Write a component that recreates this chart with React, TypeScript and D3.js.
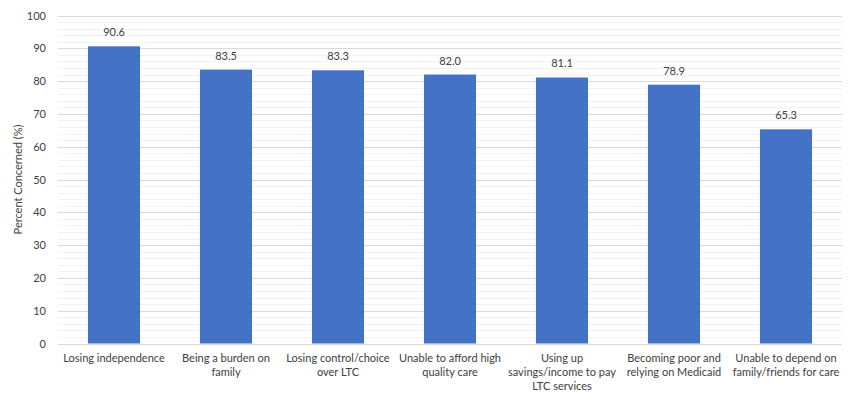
import React from "react";
import * as d3 from "d3";

const categories = [
  "Losing independence",
  "Being a burden on\nfamily",
  "Losing control/choice\nover LTC",
  "Unable to afford high\nquality care",
  "Using up\nsavings/income to pay\nLTC services",
  "Becoming poor and\nrelying on Medicaid",
  "Unable to depend on\nfamily/friends for care",
];
const values = [90.6, 83.5, 83.3, 82.0, 81.1, 78.9, 65.3];
const yTicks = [0, 10, 20, 30, 40, 50, 60, 70, 80, 90, 100];
const yTitle = "Percent Concerned (%)";

const W = 853;
const H = 405;
const left = 58;
const right = 842;
const top = 15.5;
const bottom = 343.5;
const font = "Lato, 'Open Sans', sans-serif";
const textColor = "#404040";

export default function App() {
  const x = d3.scaleBand<number>().domain(d3.range(categories.length)).range([left, right]).paddingInner(0.535).paddingOuter(0.2675);
  const y = d3.scaleLinear().domain([0, 100]).range([bottom, top]);
  const minor = d3.range(0, 101, 2).filter((v) => v % 10 !== 0);
  return (
    <svg width={W} height={H} style={{ position: "absolute", left: 0, top: 0, background: "#fff" }}>
      <rect width={W} height={H} fill="#fff" />
      {minor.map((v) => (
        <line key={"m" + v} x1={left} x2={right} y1={Math.round(y(v)) + 0.5} y2={Math.round(y(v)) + 0.5} stroke="#F2F2F2" strokeWidth={1} />
      ))}
      {yTicks.map((v) => (
        <line key={"g" + v} x1={left} x2={right} y1={Math.round(y(v)) + 0.5} y2={Math.round(y(v)) + 0.5} stroke="#D9D9D9" strokeWidth={1} />
      ))}
      {yTicks.map((v) => (
        <text key={"t" + v} x={46} y={y(v) + 4} textAnchor="end" fontFamily={font} fontSize={11} fill={textColor}>
          {v}
        </text>
      ))}
      {values.map((v, i) => (
        <g key={"b" + i}>
          <rect x={x(i)} y={y(v)} width={x.bandwidth()} height={y(0) - y(v)} fill="#4472C4" />
          <text x={(x(i) as number) + x.bandwidth() / 2} y={y(v) - 10} textAnchor="middle" fontFamily={font} fontSize={11} fill={textColor}>
            {v.toFixed(1)}
          </text>
        </g>
      ))}
      {categories.map((c, i) => (
        <text key={"c" + i} x={(x(i) as number) + x.bandwidth() / 2} y={362} textAnchor="middle" fontFamily={font} fontSize={11} fill={textColor}>
          {c.split("\n").map((l, j) => (
            <tspan key={j} x={(x(i) as number) + x.bandwidth() / 2} dy={j === 0 ? 0 : 14}>
              {l}
            </tspan>
          ))}
        </text>
      ))}
      <text transform={`translate(22, ${(top + bottom) / 2}) rotate(-90)`} textAnchor="middle" fontFamily={font} fontSize={11} fill={textColor}>
        {yTitle}
      </text>
    </svg>
  );
}
